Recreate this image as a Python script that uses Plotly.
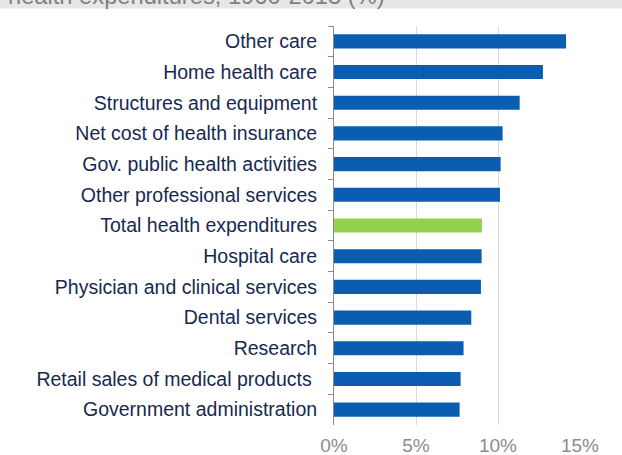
import plotly.graph_objects as go

# Average annual growth by spending category, top to bottom
categories = [
    "Other care",
    "Home health care",
    "Structures and equipment",
    "Net cost of health insurance",
    "Gov. public health activities",
    "Other professional services",
    "Total health expenditures",
    "Hospital care",
    "Physician and clinical services",
    "Dental services",
    "Research",
    "Retail sales of medical products ",
    "Government administration",
]
growth = [14.15, 12.74, 11.32, 10.28, 10.16, 10.12, 9.02, 9.0, 8.96, 8.37, 7.90, 7.72, 7.66]
highlight = "Total health expenditures"
x_ticks = [0, 5, 10, 15]
x_tick_labels = ["0%", "5%", "10%", "15%"]
title_text = "health expenditures, 1960-2013 (%)"

BLUE = "#0B5DB1"
GREEN = "#92D050"
colors = [GREEN if c == highlight else BLUE for c in categories]

W, H = 622, 455
L, R, T, B = 334, 42, 26, 30
plot_w = W - L - R
plot_h = H - T - B

fig = go.Figure(
    go.Bar(
        x=growth,
        y=categories,
        orientation="h",
        marker=dict(color=colors, line=dict(width=0)),
        width=0.46,
    )
)

FONT = "Liberation Sans, Arial, sans-serif"

fig.update_layout(
    width=W,
    height=H,
    margin=dict(l=L, r=R, t=T, b=B, pad=0, autoexpand=False),
    paper_bgcolor="white",
    plot_bgcolor="white",
    showlegend=False,
    font=dict(family=FONT),
    xaxis=dict(
        range=[0, 15],
        tickvals=x_ticks,
        ticktext=x_tick_labels,
        showgrid=True,
        gridcolor="#D9D9D9",
        gridwidth=1,
        zeroline=False,
        showline=False,
        ticks="",
        tickfont=dict(size=19, color="#8C8C8C", family=FONT),
        ticklabelstandoff=7,
        automargin=False,
        fixedrange=True,
    ),
    yaxis=dict(
        autorange="reversed",
        showline=True,
        linecolor="#8C8C8C",
        linewidth=1,
        ticks="outside",
        tickson="boundaries",
        ticklen=5,
        tickcolor="#8C8C8C",
        tickwidth=1,
        showgrid=False,
        tickfont=dict(size=19.5, color="#17294F", family=FONT),
        ticklabelstandoff=12,
        automargin=False,
        fixedrange=True,
    ),
)

# Grey heading band at the top of the page, partially scrolled out of view
def px_to_paper_x(px):
    return (px - L) / plot_w

def px_to_paper_y(py):
    return (H - B - py) / plot_h

fig.add_shape(
    type="rect",
    xref="paper",
    yref="paper",
    x0=px_to_paper_x(0),
    x1=px_to_paper_x(W),
    y0=px_to_paper_y(8.5),
    y1=px_to_paper_y(-40),
    fillcolor="#E7E7E7",
    line=dict(width=0),
    layer="below",
)
fig.add_annotation(
    text=title_text,
    xref="paper",
    yref="paper",
    x=px_to_paper_x(7),
    y=px_to_paper_y(10),
    xanchor="left",
    yanchor="bottom",
    showarrow=False,
    font=dict(size=23.7, color="#808080", family=FONT),
    borderpad=0,
)

fig.write_html("out.html")
